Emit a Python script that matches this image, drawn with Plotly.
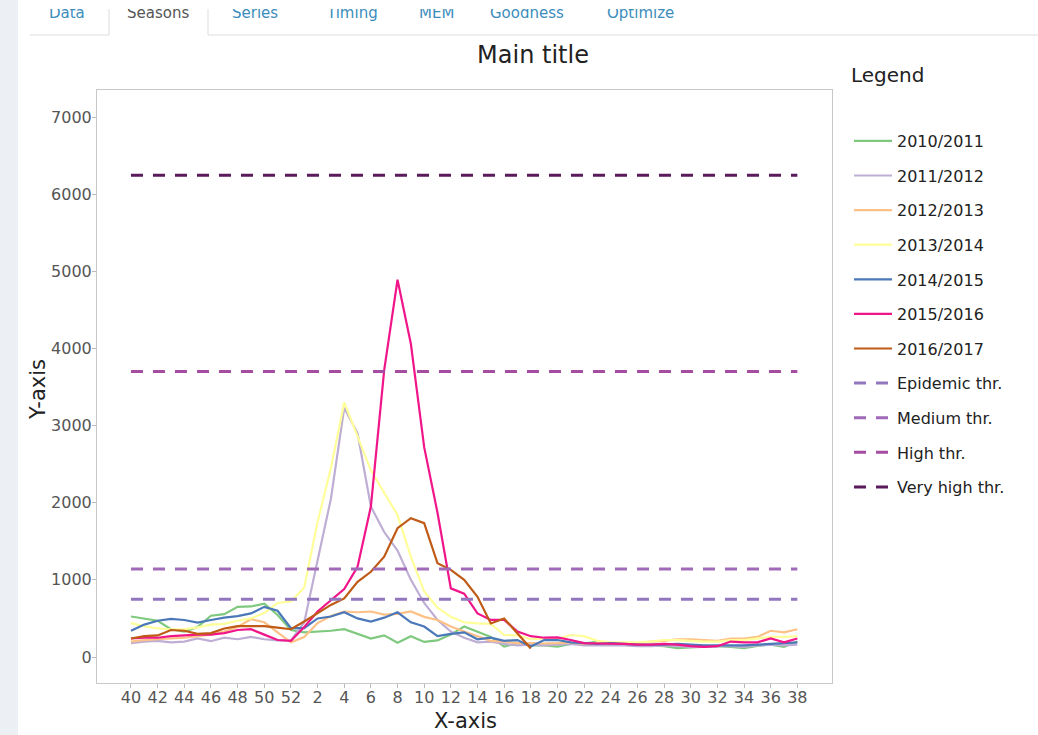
import plotly.graph_objects as go

# ---------------- data ----------------
weeks = ["40", "41", "42", "43", "44", "45", "46", "47", "48", "49", "50", "51", "52",
         "1", "2", "3", "4", "5", "6", "7", "8", "9", "10", "11", "12",
         "13", "14", "15", "16", "17", "18", "19", "20", "21", "22", "23", "24",
         "25", "26", "27", "28", "29", "30", "31", "32", "33", "34", "35", "36", "37", "38"]
week_ticks = ["40", "42", "44", "46", "48", "50", "52", "2", "4", "6", "8", "10", "12", "14",
              "16", "18", "20", "22", "24", "26", "28", "30", "32", "34", "36", "38"]

s2010_2011 = [525, 495, 470, 360, 330, 390, 535, 555, 650, 655, 690, 545, 350,
              320, 330, 340, 360, 300, 240, 280, 185, 270, 195, 215, 290,
              395, 330, 260, 135, 180, 150, 150, 135, 170, 175, 200, 180,
              160, 150, 150, 140, 115, 125, 130, 140, 130, 115, 145, 160, 130, 200]
s2011_2012 = [180, 200, 210, 190, 200, 240, 205, 250, 230, 260, 230, 215, 215,
              450, 1250, 2050, 3230, 2900, 1950, 1620, 1380, 1000, 700, 480, 330,
              250, 190, 200, 170, 150, 160, 150, 160, 170, 150, 150, 150,
              150, 140, 140, 150, 140, 130, 130, 140, 140, 130, 150, 160, 150, 160]
s2012_2013 = [200, 220, 230, 240, 250, 270, 290, 330, 390, 490, 450, 320, 190,
              260, 440, 530, 590, 580, 590, 550, 560, 590, 520, 480, 395,
              330, 270, 210, 200, 180, 180, 175, 180, 190, 170, 180, 180,
              170, 180, 200, 210, 230, 230, 220, 210, 240, 240, 260, 340, 320, 360]
s2013_2014 = [440, 400, 370, 360, 360, 385, 420, 430, 470, 500, 570, 700, 720,
              900, 1750, 2450, 3300, 2850, 2420, 2130, 1840, 1300, 850, 640, 520,
              450, 435, 430, 285, 280, 230, 240, 235, 285, 270, 210, 190,
              190, 190, 200, 220, 220, 210, 200, 200, 220, 220, 240, 260, 260, 270]
s2014_2015 = [340, 420, 470, 495, 480, 445, 480, 510, 530, 565, 650, 600, 375,
              375, 500, 525, 580, 500, 460, 510, 580, 450, 395, 270, 300,
              320, 230, 250, 210, 220, 135, 220, 220, 190, 180, 170, 180,
              170, 160, 160, 160, 170, 160, 150, 150, 150, 150, 160, 170, 180, 190]
s2015_2016 = [240, 250, 250, 270, 280, 290, 290, 310, 350, 360, 290, 220, 210,
              390, 590, 740, 880, 1170, 1950, 3720, 4890, 4060, 2720, 1870, 890,
              820, 565, 480, 480, 330, 270, 250, 255, 220, 180, 175, 175,
              170, 160, 160, 170, 160, 140, 130, 140, 200, 190, 190, 240, 190, 240]
s2016_2017 = [240, 270, 280, 350, 340, 300, 310, 370, 400, 400, 400, 380, 360,
              460, 565, 675, 760, 975, 1105, 1300, 1670, 1800, 1735, 1215, 1130,
              1000, 780, 435, 500, 305, 110,
              None, None, None, None, None, None, None, None, None, None,
              None, None, None, None, None, None, None, None, None, None]

season_names = ["2010/2011", "2011/2012", "2012/2013", "2013/2014",
                "2014/2015", "2015/2016", "2016/2017"]
season_values = [s2010_2011, s2011_2012, s2012_2013, s2013_2014,
                 s2014_2015, s2015_2016, s2016_2017]
season_colors = ["#7FC97F", "#BEAED4", "#FDC086", "#FFFF99",
                 "#4A78B8", "#F0168A", "#BF5B17"]

threshold_names = ["Epidemic thr.", "Medium thr.", "High thr.", "Very high thr."]
threshold_values = [750, 1140, 3700, 6245]
threshold_colors = ["#9277BE", "#A06AB9", "#A44DA1", "#5A1A5C"]

y_ticks = [0, 1000, 2000, 3000, 4000, 5000, 6000, 7000]

# ---------------- figure ----------------
W, H = 1038, 735
L, R, T, B = 97, 832, 90, 683
FONT = "DejaVu Sans"

fig = go.Figure()
for name, vals, col in zip(season_names, season_values, season_colors):
    fig.add_trace(go.Scatter(x=weeks, y=vals, mode="lines", name=name,
                             legendgroup=name,
                             line=dict(color=col, width=2.2)))
for name, val, col in zip(threshold_names, threshold_values, threshold_colors):
    fig.add_trace(go.Scatter(x=weeks, y=[val] * len(weeks), mode="lines", name=name,
                             legendgroup=name,
                             line=dict(color=col, width=3, dash="12px,10px")))


def px_x(p):
    return (p - L) / (R - L)


def px_y(p):
    return (B - p) / (B - T)


shapes = [
    # left page strip
    dict(type="rect", xref="paper", yref="paper", x0=px_x(0), x1=px_x(18),
         y0=px_y(H), y1=px_y(0), fillcolor="#ECF0F5", line=dict(width=0), layer="below"),
    # tab baseline
    dict(type="line", xref="paper", yref="paper", x0=px_x(30), x1=px_x(109),
         y0=px_y(35), y1=px_y(35), line=dict(color="#DDDDDD", width=1)),
    dict(type="line", xref="paper", yref="paper", x0=px_x(208), x1=px_x(W),
         y0=px_y(35), y1=px_y(35), line=dict(color="#DDDDDD", width=1)),
    # active tab sides
    dict(type="line", xref="paper", yref="paper", x0=px_x(109), x1=px_x(109),
         y0=px_y(35), y1=px_y(0), line=dict(color="#DDDDDD", width=1)),
    dict(type="line", xref="paper", yref="paper", x0=px_x(208), x1=px_x(208),
         y0=px_y(35), y1=px_y(0), line=dict(color="#DDDDDD", width=1)),
]

tabs = [("Data", 67), ("Seasons", 158), ("Series", 255), ("Timing", 352),
        ("MEM", 436), ("Goodness", 527), ("Optimize", 640)]
annotations = []
for label, cx in tabs:
    annotations.append(dict(text=label, xref="paper", yref="paper",
                            x=px_x(cx), y=px_y(13), xanchor="center", yanchor="middle",
                            showarrow=False,
                            font=dict(family=FONT, size=15,
                                      color="#555555" if label == "Seasons" else "#3C8DBC")))
# white band hiding the upper part of the tab labels (cropped page header)
annotations.append(dict(text=" ", xref="paper", yref="paper",
                        x=px_x(20), y=px_y(0), xanchor="left", yanchor="top",
                        width=1000, height=9, bgcolor="white", borderpad=0, borderwidth=0,
                        showarrow=False, font=dict(size=2)))
annotations.append(dict(text="Legend", xref="paper", yref="paper",
                        x=px_x(849), y=px_y(75), xanchor="left", yanchor="middle",
                        showarrow=False, font=dict(family=FONT, size=20, color="#222222")))
annotations.append(dict(text="X-axis", xref="paper", yref="paper",
                        x=px_x(465), y=px_y(721), xanchor="center", yanchor="middle",
                        showarrow=False, font=dict(family=FONT, size=21, color="#222222")))
annotations.append(dict(text="Y-axis", xref="paper", yref="paper", textangle=-90,
                        x=px_x(38), y=px_y(390), xanchor="center", yanchor="middle",
                        showarrow=False, font=dict(family=FONT, size=21, color="#222222")))

fig.update_layout(
    width=W, height=H,
    margin=dict(l=L, r=W - R, t=T, b=H - B, pad=0),
    paper_bgcolor="white", plot_bgcolor="white",
    font=dict(family=FONT, size=16, color="#333333"),
    title=dict(text="Main title", x=px_x(533), xref="paper", xanchor="center",
               y=1 - 55 / H, yanchor="middle",
               font=dict(family=FONT, size=24, color="#222222")),
    xaxis=dict(type="category", range=[-2.55, 52.6],
               tickmode="array", tickvals=week_ticks, ticktext=week_ticks,
               ticks="outside", ticklen=4, tickcolor="#BBBBBB",
               ticklabelstandoff=-4,
               showgrid=False, zeroline=False,
               showline=True, linecolor="#C8C8C8", linewidth=1, mirror=True,
               tickfont=dict(family=FONT, size=16, color="#555555")),
    yaxis=dict(range=[-337, 7350], tickmode="array", tickvals=y_ticks,
               ticks="outside", ticklen=4, tickcolor="#BBBBBB",
               ticklabelstandoff=-3,
               showgrid=False, zeroline=False,
               showline=True, linecolor="#C8C8C8", linewidth=1, mirror=True,
               tickfont=dict(family=FONT, size=16, color="#555555")),
    legend=dict(xref="container", yref="container",
                x=849 / W, y=1 - 124 / H, xanchor="left", yanchor="top",
                maxheight=650,
                bgcolor="rgba(0,0,0,0)", tracegroupgap=10.8, itemwidth=38,
                font=dict(family=FONT, size=16, color="#222222")),
    shapes=shapes,
    annotations=annotations,
)

fig.write_html("out.html", config={"displayModeBar": False},
               post_script="document.body.style.margin='0';")
